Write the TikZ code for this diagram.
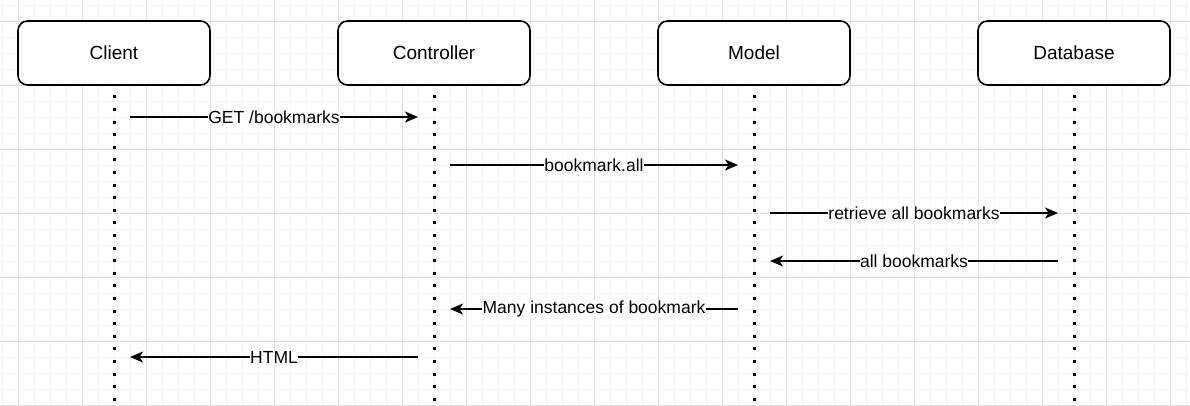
\documentclass[tikz,border=0pt]{standalone}
\usepackage{fontspec}
\setmainfont{Liberation Sans}
\usetikzlibrary{arrows.meta,positioning}

\tikzset{
  head/.style={draw, line width=1.6pt, rounded corners=9.6pt, minimum width=192pt,
    minimum height=64pt, font=\fontsize{19}{22}\selectfont},
  lifeline/.style={line width=3pt, dash pattern=on 3pt off 9.6pt},
  msg/.style={line width=1.6pt, -{Stealth[length=13pt,width=11pt,inset=3.5pt]}},
  lbl/.style={fill=white, inner sep=0.5pt, font=\fontsize{17.5}{20}\selectfont},
}

\begin{document}
\begin{tikzpicture}[x=1pt,y=-1pt]
\useasboundingbox (0,0) rectangle (1190,405);
% background grid
\begin{scope}
  \clip (0,0) rectangle (1190,405);
  \begin{scope}[shift={(2,5.3)}]
    \draw[gray!8, line width=1pt] (-16,-16) grid[step=16pt] (1200,420);
  \end{scope}
  \begin{scope}[shift={(18,21.3)}]
    \draw[gray!24, line width=1pt] (-64,-64) grid[step=64pt] (1200,420);
  \end{scope}
\end{scope}

\node[head, fill=white] (client) at (114,53) {Client};
\node[head, fill=white, on grid, right=320pt of client] (ctrl) {Controller};
\node[head, fill=white, on grid, right=320pt of ctrl] (model) {Model};
\node[head, fill=white, on grid, right=320pt of model] (db) {Database};

\coordinate (bot) at (0,405);
\foreach \n in {client,ctrl,model,db}
  \draw[lifeline] ([yshift=-9.5pt]\n.south) -- (\n |- bot);

% message rows
\coordinate (r1) at (0,117);
\coordinate (r2) at (0,165);
\coordinate (r3) at (0,213);
\coordinate (r4) at (0,261);
\coordinate (r5) at (0,309);
\coordinate (r6) at (0,357);

\draw[msg] ([xshift=16pt]client |- r1) -- ([xshift=-16pt]ctrl |- r1) node[lbl,midway]{GET /bookmarks};
\draw[msg] ([xshift=16pt]ctrl |- r2) -- ([xshift=-16pt]model |- r2) node[lbl,midway]{bookmark.all};
\draw[msg] ([xshift=16pt]model |- r3) -- ([xshift=-16pt]db |- r3) node[lbl,midway]{retrieve all bookmarks};
\draw[msg] ([xshift=-16pt]db |- r4) -- ([xshift=16pt]model |- r4) node[lbl,midway]{all bookmarks};
\draw[msg] ([xshift=-16pt]model |- r5) -- ([xshift=16pt]ctrl |- r5) node[lbl,midway]{Many instances of bookmark};
\draw[msg] ([xshift=-16pt]ctrl |- r6) -- ([xshift=16pt]client |- r6) node[lbl,midway]{HTML};
\end{tikzpicture}
\end{document}
